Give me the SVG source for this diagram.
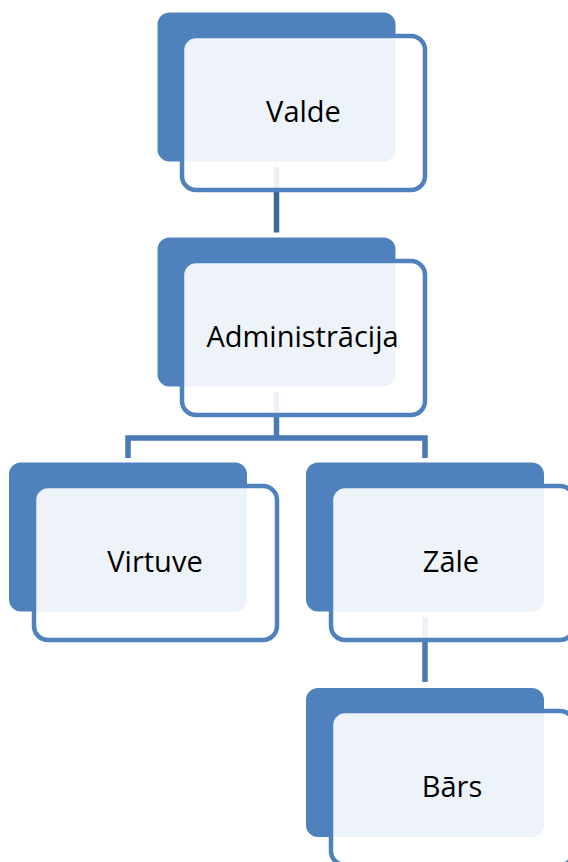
<svg xmlns="http://www.w3.org/2000/svg" width="568" height="862" viewBox="0 0 568 862">
<style>
.back{fill:#4F81BD}
.front{fill:#FFFFFF;fill-opacity:0.9;stroke:#4F81BD;stroke-width:4.5}
.lbl{font-family:"Open Sans","Liberation Sans",sans-serif;font-size:29px;fill:#000;text-anchor:middle}
.conn{fill:none;stroke:#4A7AB5;stroke-width:5.5}
</style>
<rect width="568" height="862" fill="#FFFFFF"/>
<g id="connectors">
<line x1="276.5" y1="167" x2="276.5" y2="232.5" class="conn" style="stroke:#3C6598"/>
<path class="conn" d="M276.5,392 V438 M128,458 V438 H425 V458"/>
<line x1="425" y1="617" x2="425" y2="682" class="conn"/>
</g>
<g id="valde">
<rect class="back" x="157.5" y="12.5" width="238" height="149" rx="12"/>
<rect class="front" x="182" y="36" width="243" height="154" rx="14"/>
<text class="lbl" x="303.5" y="122">Valde</text>
</g>
<g id="administracija">
<rect class="back" x="157.5" y="237.5" width="238" height="149" rx="12"/>
<rect class="front" x="182" y="261" width="243" height="154" rx="14"/>
<text class="lbl" x="302.5" y="347">Administrācija</text>
</g>
<g id="virtuve">
<rect class="back" x="9" y="462.5" width="238" height="149" rx="12"/>
<rect class="front" x="34" y="486" width="243" height="154" rx="14"/>
<text class="lbl" x="155" y="572">Virtuve</text>
</g>
<g id="zale">
<rect class="back" x="306" y="462.5" width="238" height="149" rx="12"/>
<rect class="front" x="331" y="486" width="243" height="154" rx="14"/>
<text class="lbl" x="451" y="572">Zāle</text>
</g>
<g id="bars">
<rect class="back" x="306" y="688" width="238" height="149" rx="12"/>
<rect class="front" x="331" y="711" width="243" height="154" rx="14"/>
<text class="lbl" x="452" y="797">Bārs</text>
</g>
</svg>
